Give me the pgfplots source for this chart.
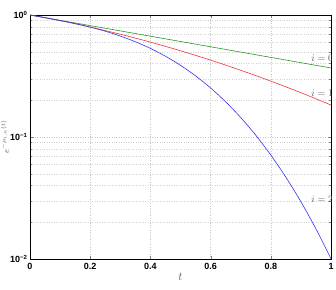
\documentclass[border=0pt]{standalone}
\usepackage{fontspec}
\setmainfont{Liberation Sans}
\usepackage{pgfplots}
\pgfplotsset{compat=1.18}
\definecolor{mgreen}{rgb}{0.15,0.6,0.15}
\definecolor{mred}{rgb}{0.95,0.2,0.2}
\definecolor{mblue}{rgb}{0.2,0.2,0.95}
\begin{document}
\begin{tikzpicture}
\begin{axis}[
  scale only axis, width=301pt, height=244pt,
  xmin=0, xmax=1, ymin=0.01, ymax=1,
  ymode=log,
  xtick={0,0.2,0.4,0.6,0.8,1},
  xticklabels={\textbf{0},\textbf{0.2},\textbf{0.4},\textbf{0.6},\textbf{0.8},\textbf{1}},
  ytick={0.01,0.1,1},
  yticklabels={\textbf{10}\textsuperscript{\textbf{−2}},\textbf{10}\textsuperscript{\textbf{−1}},\textbf{10}\textsuperscript{\textbf{0}}},
  tick label style={font=\fontsize{9}{10}\selectfont},
  yticklabel style={xshift=1pt},
  xticklabel style={yshift=-1pt},
  tick align=inside, tick pos=both,
  major tick length=3.5pt, minor tick length=2pt,
  grid=both, minor x tick num=0,
  major grid style={dotted, gray!45},
  minor grid style={dotted, gray!35},
  axis line style={black, line width=0.7pt},
  xlabel={$t$}, ylabel={$e^{-\mu_{i,n}(t)}$},
  label style={text=black!65},
  xlabel style={yshift=4pt, font=\large},
  ylabel style={yshift=-6pt, font=\small},
  clip=true,
]
\addplot[mgreen, line width=0.6pt, smooth] coordinates {
(0,1) (0.05,0.95123) (0.1,0.904837) (0.15,0.860708) (0.2,0.818731) (0.25,0.778801)
(0.3,0.740818) (0.35,0.704688) (0.4,0.670320) (0.45,0.637628) (0.5,0.606531)
(0.55,0.576950) (0.6,0.548812) (0.65,0.522046) (0.7,0.496585) (0.75,0.472367)
(0.8,0.449329) (0.85,0.427415) (0.9,0.406570) (0.95,0.386741) (1,0.367879)};
\addplot[mred, line width=0.6pt, smooth] coordinates {
(0,1) (0.05,0.94957) (0.1,0.89853) (0.15,0.84726) (0.2,0.79612) (0.25,0.74546)
(0.3,0.69559) (0.35,0.64678) (0.4,0.59930) (0.45,0.55336) (0.5,0.50916)
(0.55,0.46685) (0.6,0.42656) (0.65,0.38839) (0.7,0.35240) (0.75,0.31862)
(0.8,0.28707) (0.85,0.25775) (0.9,0.23062) (0.95,0.20561) (1,0.182684)};
\addplot[mblue, line width=0.6pt, smooth] coordinates {
(0,1) (0.05,0.95080) (0.1,0.90158) (0.15,0.85031) (0.2,0.79549) (0.25,0.73620)
(0.3,0.67220) (0.35,0.60390) (0.4,0.53238) (0.45,0.45930) (0.5,0.386741)
(0.55,0.31697) (0.6,0.25218) (0.65,0.19424) (0.7,0.14445) (0.75,0.10344)
(0.8,0.07113) (0.85,0.04685) (0.9,0.02947) (0.95,0.01766) (1,0.010052)};
\node[anchor=west, text=black!65, font=\normalsize, inner sep=0pt] at (axis cs:0.934,0.444) {$i=0$};
\node[anchor=west, text=black!65, font=\normalsize, inner sep=0pt] at (axis cs:0.934,0.229) {$i=1$};
\node[anchor=west, text=black!65, font=\normalsize, inner sep=0pt] at (axis cs:0.934,0.031) {$i=2$};
\end{axis}
\pgfresetboundingbox
\path[use as bounding box] ([shift={(-30pt,-30pt)}]current axis.south west) rectangle ([shift={(5pt,15pt)}]current axis.north east);
\end{tikzpicture}
\end{document}
